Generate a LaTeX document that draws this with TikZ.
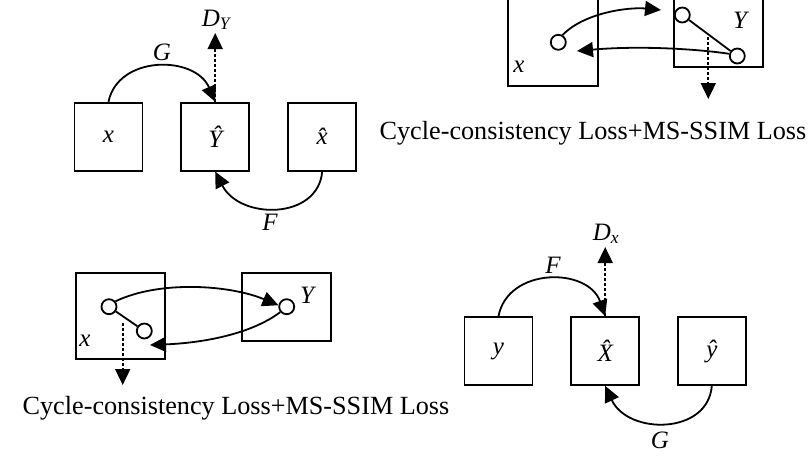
\documentclass[tikz,border=0pt]{standalone}
\usepackage{fontspec}
\setmainfont{Liberation Serif}
\usetikzlibrary{arrows.meta}
\begin{document}
\begin{tikzpicture}[x=1pt,y=-1pt,
  every node/.style={inner sep=0pt},
  lab/.style={font=\fontsize{25}{28}\selectfont\itshape},
  sqbox/.style={draw, line width=1.8pt, minimum width=68pt, minimum height=68pt, lab},
  panel/.style={draw, line width=1.8pt},
  dot/.style={draw, circle, line width=1.8pt, minimum size=15pt, fill=white},
  arr/.style={line width=1.8pt, -{Triangle[length=16pt,width=15pt]}},
  darr/.style={arr, dash pattern=on 3pt off 2pt},
  captxt/.style={font=\fontsize{26.2}{30}\selectfont}
]
\useasboundingbox (0,0) rectangle (811,459);
\clip (0,0) rectangle (811,459);

% ---------- top-left ----------
\node[sqbox] (x1) at (108.5,136.7) {x};
\node[sqbox] (Y1) at (215.2,136.7) {\^{Y}};
\node[sqbox] (xh1) at (322.2,136.7) {\^{x}};
\node[lab, anchor=south] (DY) at (216,30) {D\textsubscript{Y}};
\node[lab] (G1) at (162,52) {G};
\node[lab] (F1) at (270,222) {F};
\draw[arr] (x1.north) .. controls (118,55) and (195,55) .. (Y1.north);
\draw[darr, shorten >=3pt] (Y1.north) -- (DY.south -| Y1.north);
\draw[arr] (xh1.south) .. controls (318,220) and (240,220) .. (Y1.south);

% ---------- top-right ----------
\node[panel, minimum width=89.4pt, minimum height=88pt] (PX1) at (553,42) {};
\node[panel, minimum width=89pt, minimum height=68.7pt] (PY1) at (718.8,32.3) {};
\node[dot] (a1) at (558.3,42.3) {};
\node[dot] (b1) at (682.3,15) {};
\node[dot] (c1) at (737.3,56) {};
\draw[line width=1.8pt] (b1) -- (c1);
\coordinate (t1) at (661,10);
\coordinate (t2) at (577,51);
\draw[arr] (a1.60) .. controls (585,12) and (630,7) .. (t1);
\draw[arr] (c1.165) .. controls (705,50) and (645,45) .. (t2);
\coordinate (s1) at (708.3,37);
\coordinate (e1) at (708.3,99);
\draw[darr] (s1) -- (e1);
\node[lab] (lx1) at (519,67) {x};
\node[lab] (lY1) at (740,20) {Y};
\node[captxt] (cap1) at (593,133) {Cycle-consistency Loss+MS-SSIM Loss};

% ---------- bottom-left ----------
\node[panel, minimum width=89.3pt, minimum height=86.6pt] (PX2) at (120.7,316) {};
\node[panel, minimum width=89.3pt, minimum height=68pt] (PY2) at (286.3,306.7) {};
\node[dot] (a2) at (109,306.7) {};
\node[dot] (b2) at (144.3,331) {};
\node[dot] (c2) at (286.7,306.7) {};
\draw[line width=1.8pt] (a2) -- (b2);
\draw[arr] (a2.40) .. controls (160,280) and (230,285) .. (c2.170);
\coordinate (t4) at (150,345);
\draw[arr] (c2.220) .. controls (250,335) and (200,343) .. (t4);
\coordinate (s2) at (122.7,323);
\coordinate (e2) at (122.7,385);
\draw[darr] (s2) -- (e2);
\node[lab] (lx2) at (85,341) {x};
\node[lab] (lY2) at (307,295) {Y};
\node[captxt] (cap2) at (236,408) {Cycle-consistency Loss+MS-SSIM Loss};

% ---------- bottom-right ----------
\node[sqbox] (y3) at (498.5,351) {y};
\node[sqbox] (X3) at (605.2,351) {\^{X}};
\node[sqbox] (yh3) at (711.8,351) {\^{y}};
\node[lab, anchor=south] (Dx) at (606,244) {D\textsubscript{x}};
\node[lab] (F3) at (553,265) {F};
\node[lab] (G3) at (660,440) {G};
\draw[arr] (y3.north) .. controls (508,267) and (588,267) .. (X3.north);
\draw[darr, shorten >=3pt] (X3.north) -- (Dx.south -| X3.north);
\draw[arr] (yh3.south) .. controls (708,435) and (628,435) .. (X3.south);
\end{tikzpicture}
\end{document}
